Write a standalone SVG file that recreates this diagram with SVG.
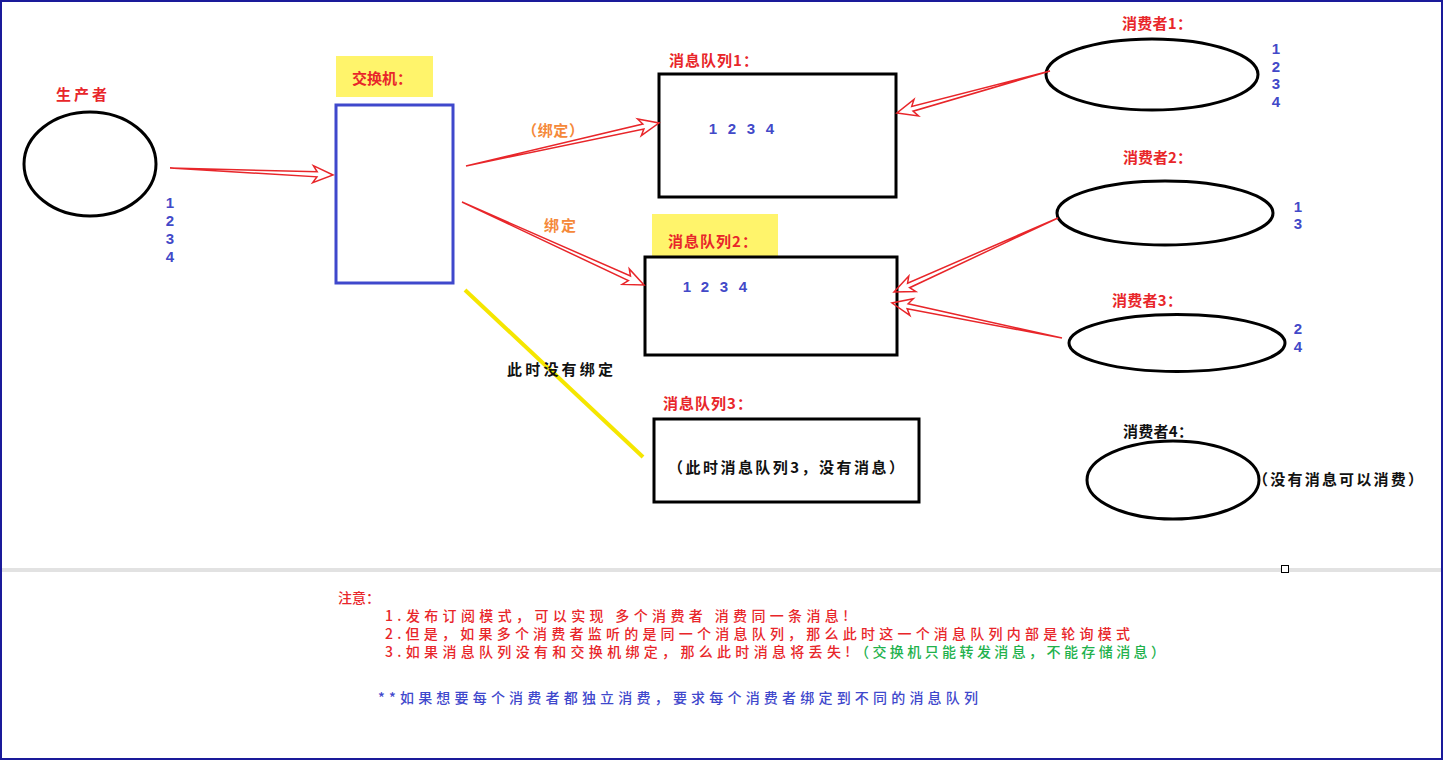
<svg xmlns="http://www.w3.org/2000/svg" width="1444" height="761" viewBox="0 0 1444 761">
<style>
.lbl{font-family:"Noto Sans CJK SC","Noto Sans",sans-serif;font-weight:bold;font-size:15px;}
.red{fill:#e8262a;}
.blk{fill:#111111;}
.org{fill:#f5893a;}
.grn{fill:#22b14c;}
.blu{fill:#3f48cc;}
.num{font-family:"Liberation Sans",Arial,sans-serif;font-size:15px;font-weight:bold;fill:#4249c8;text-anchor:middle;}
.shape{fill:#ffffff;stroke:#000000;stroke-width:3;}
.arrow{fill:none;stroke:#e8262a;stroke-width:1.5;stroke-linejoin:miter;}
.note{font-family:"Noto Sans CJK SC","Noto Sans",sans-serif;font-weight:500;font-size:14px;}
</style>
<rect x="0" y="0" width="1444" height="761" fill="#ffffff"/>
<rect x="1" y="1" width="1441" height="758" fill="none" stroke="#1a1a9a" stroke-width="2"/>
<rect x="2" y="568" width="1439" height="4" fill="#e2e2e2"/>
<rect x="1281.5" y="565.5" width="7" height="7" fill="#ffffff" stroke="#000000" stroke-width="1"/>

<g id="producer">
<ellipse cx="90" cy="164" rx="66" ry="52" class="shape"/>
<text x="56" y="100" class="lbl red" textLength="51" lengthAdjust="spacing">生产者</text>
<text x="170" y="208" class="num">1</text>
<text x="170" y="226" class="num">2</text>
<text x="170" y="244" class="num">3</text>
<text x="170" y="262" class="num">4</text>
</g>

<g id="exchange">
<rect x="336" y="56" width="97" height="41" fill="#fff46b"/>
<text x="352" y="84" class="lbl red" textLength="60" lengthAdjust="spacing">交换机：</text>
<rect x="336" y="105" width="117" height="178" fill="#ffffff" stroke="#3f48cc" stroke-width="3"/>
</g>

<g id="queue1">
<text x="669" y="66" class="lbl red" font-size="16" textLength="89" lengthAdjust="spacing">消息队列1：</text>
<rect x="659" y="74" width="237" height="123" class="shape"/>
<text x="713" y="134" class="num">1</text>
<text x="732" y="134" class="num">2</text>
<text x="751" y="134" class="num">3</text>
<text x="770" y="134" class="num">4</text>
</g>

<g id="queue2">
<rect x="652" y="214" width="126" height="42" fill="#fff46b"/>
<text x="668" y="247" class="lbl red" font-size="16" textLength="89" lengthAdjust="spacing">消息队列2：</text>
<rect x="645" y="257" width="252" height="98" class="shape"/>
<text x="687" y="292" class="num">1</text>
<text x="705" y="292" class="num">2</text>
<text x="724" y="292" class="num">3</text>
<text x="743" y="292" class="num">4</text>
</g>

<g id="queue3">
<text x="663" y="409" class="lbl red" font-size="16" textLength="89" lengthAdjust="spacing">消息队列3：</text>
<rect x="654" y="419" width="265" height="83" class="shape"/>
<text x="668" y="473" class="lbl blk" font-size="15" textLength="236" lengthAdjust="spacing">（此时消息队列3，没有消息）</text>
</g>

<g id="consumer1">
<text x="1122" y="29" class="lbl red" textLength="70" lengthAdjust="spacing">消费者1：</text>
<ellipse cx="1152" cy="74.5" rx="106" ry="35.5" class="shape"/>
<text x="1276" y="54" class="num">1</text>
<text x="1276" y="72" class="num">2</text>
<text x="1276" y="89" class="num">3</text>
<text x="1276" y="107" class="num">4</text>
</g>

<g id="consumer2">
<text x="1123" y="163" class="lbl red" textLength="69" lengthAdjust="spacing">消费者2：</text>
<ellipse cx="1165" cy="213" rx="108" ry="32" class="shape"/>
<text x="1298" y="212" class="num">1</text>
<text x="1298" y="229" class="num">3</text>
</g>

<g id="consumer3">
<text x="1112" y="306" class="lbl red" textLength="70" lengthAdjust="spacing">消费者3：</text>
<ellipse cx="1177" cy="343" rx="108" ry="28.5" class="shape"/>
<text x="1298" y="334" class="num">2</text>
<text x="1298" y="352" class="num">4</text>
</g>

<g id="consumer4">
<text x="1123" y="437" class="lbl blk" textLength="70" lengthAdjust="spacing">消费者4：</text>
<ellipse cx="1173" cy="480" rx="86" ry="39" class="shape"/>
<text x="1253" y="485" class="lbl blk" textLength="170" lengthAdjust="spacing">（没有消息可以消费）</text>
</g>

<g id="connectors">
<path class="arrow" transform="translate(170,168) rotate(2.46)" d="M0,0 L147.2,-2.5 L143.2,-8.5 L163.2,0 L143.2,8.5 L147.2,2.5 Z"/>
<path class="arrow" transform="translate(466,166) rotate(-12.56)" d="M0,0 L181.7,-2.5 L177.7,-8.5 L197.7,0 L177.7,8.5 L181.7,2.5 Z"/>
<path class="arrow" transform="translate(462,202) rotate(24.51)" d="M0,0 L184,-2.5 L180,-8.5 L200,0 L180,8.5 L184,2.5 Z"/>
<path class="arrow" transform="translate(1050,71) rotate(164.65)" d="M0,0 L142.7,-2.5 L138.7,-8.5 L158.7,0 L138.7,8.5 L142.7,2.5 Z"/>
<path class="arrow" transform="translate(1058,218) rotate(155.71)" d="M0,0 L163.9,-2.5 L159.9,-8.5 L179.9,0 L159.9,8.5 L163.9,2.5 Z"/>
<path class="arrow" transform="translate(1062,338) rotate(-168.37)" d="M0,0 L157.6,-2.5 L153.6,-8.5 L173.6,0 L153.6,8.5 L157.6,2.5 Z"/>
<line x1="465" y1="290" x2="643" y2="457" stroke="#f5e600" stroke-width="4"/>
<text x="522" y="136" class="lbl org" font-size="15" textLength="62" lengthAdjust="spacing">（绑定）</text>
<text x="544" y="231" class="lbl org" font-size="15" textLength="32" lengthAdjust="spacing">绑定</text>
<text x="507" y="375" class="lbl blk" font-size="16" textLength="106" lengthAdjust="spacing">此时没有绑定</text>
</g>

<g id="notes">
<text x="338" y="603" class="note red" textLength="42" lengthAdjust="spacing">注意：</text>
<text x="385" y="621" class="note red" textLength="463" lengthAdjust="spacing">1.发布订阅模式，可以实现 多个消费者 消费同一条消息!</text>
<text x="385" y="639" class="note red" textLength="745" lengthAdjust="spacing">2.但是，如果多个消费者监听的是同一个消息队列，那么此时这一个消息队列内部是轮询模式</text>
<text x="385" y="657" class="note red" textLength="465" lengthAdjust="spacing">3.如果消息队列没有和交换机绑定，那么此时消息将丢失!</text>
<text x="855" y="657" class="note grn" textLength="310" lengthAdjust="spacing">（交换机只能转发消息，不能存储消息）</text>
<text x="378" y="703" class="note blu" textLength="600" lengthAdjust="spacing">**如果想要每个消费者都独立消费，要求每个消费者绑定到不同的消息队列</text>
</g>
</svg>
